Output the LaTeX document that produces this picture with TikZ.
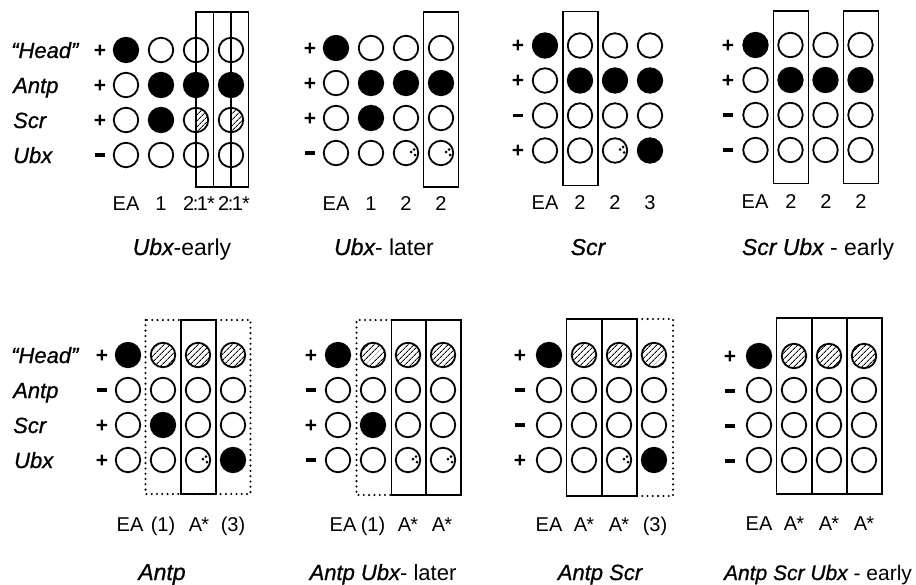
\documentclass[tikz,border=0pt]{standalone}
\usepackage{fontspec}
\usepackage{graphicx}
\setmainfont{Liberation Sans}
\newfontfamily\genefont{Liberation Sans}[FakeBold=0.8]
\usetikzlibrary{patterns.meta}

% italic gene name
\newcommand\gn[1]{{\genefont\itshape #1}}
% thick short bar used as the minus sign
\newcommand\mns{\rule[5.3pt]{10.5pt}{3.6pt}}
% one row of four cells: name prefix, x of first cell, y, kinds
\newcommand\cellrow[4]{\foreach \k [count=\i] in {#4}{\node[cell,cel\k] (#1c\i) at ({#2+(\i-1)*35},#3) {};}}
% column of four signs: name prefix, x, y of first row, signs
\newcommand\signcol[4]{\foreach \s [count=\i] in {#4}{\node[signstyle] (#1s\i) at (#2,{#3+(\i-1)*35+7.1}) {\s};}}

\tikzset{
  x=1pt, y=-1pt,
  cell/.style={circle, draw, line width=1.8pt, minimum size=24.5pt, inner sep=0pt},
  celO/.style={fill=white},
  celB/.style={fill=black},
  celH/.style={fill=white, postaction={pattern={Lines[angle=45,distance=4pt,line width=0.9pt]}}},
  celR/.style={fill=white, path picture={\fill[pattern={Lines[angle=45,distance=4pt,line width=0.9pt]}]
      (path picture bounding box.south) rectangle (path picture bounding box.north east);}},
  celD/.style={fill=white, path picture={\fill[black] (path picture bounding box.center) ++(5,-1) circle (1.5pt)
      ++(3,-2.5) circle (1.5pt) ++(1,5.5) circle (1.5pt);}},
  boxline/.style={line width=1.8pt},
  dotline/.style={line width=2.3pt, dash pattern=on 0pt off 5.3pt, line cap=round},
  signstyle/.style={anchor=base, inner sep=0pt, text height=15pt, text depth=0pt,
      font=\fontsize{21}{24}\selectfont\bfseries},
  lab/.style={anchor=base, inner sep=0pt, font=\fontsize{20}{24}\selectfont},
  rowname/.style={anchor=base west, inner sep=0pt, font=\fontsize{22}{26}\selectfont},
  ttl/.style={anchor=base, inner sep=0pt, font=\fontsize{23}{27}\selectfont},
}

\begin{document}
\begin{tikzpicture}
\useasboundingbox (0,0) rectangle (916,584);
\fill[white] (0,0) rectangle (916,584);

% ---------- gene names, top block ----------
\node[rowname] (nt1) at (11,58) {\gn{“Head”}};
\node[rowname] (nt2) at (13,93) {\gn{Antp}};
\node[rowname] (nt3) at (13,128) {\gn{Scr}};
\node[rowname] (nt4) at (13,163) {\gn{Ubx}};

% ---------- gene names, bottom block ----------
\node[rowname] (nb1) at (11,363) {\gn{“Head”}};
\node[rowname] (nb2) at (13,398) {\gn{Antp}};
\node[rowname] (nb3) at (13,433) {\gn{Scr}};
\node[rowname] (nb4) at (14,468) {\gn{Ubx}};

% ---------- Ubx-early ----------
\signcol{pa}{100}{50}{+,+,+,\mns}
\cellrow{pa1}{126}{50}{B,O,O,O}
\cellrow{pa2}{126}{85}{O,B,B,B}
\cellrow{pa3}{126}{120}{O,B,R,R}
\cellrow{pa4}{126}{155}{O,O,O,O}
\draw[boxline] (196,12) rectangle (248.5,187);
\draw[boxline] (213.5,12) -- (213.5,187);
\draw[boxline] (231,12) -- (231,187);
\node[lab] (la1) at (126,210) {EA};
\node[lab] (la2) at (161,210) {1};
\node[lab] (la3) at (199,210) {2\kern-1.5pt:\kern-1.5pt1\kern-1pt*};
\node[lab] (la4) at (234,210) {2\kern-1.5pt:\kern-1.5pt1\kern-1pt*};
\node[ttl] (ta) at (182,255) {\gn{Ubx}-early};

% ---------- Ubx-later ----------
\signcol{pb}{310}{48}{+,+,+,\mns}
\cellrow{pb1}{336}{48}{B,O,O,O}
\cellrow{pb2}{336}{83}{O,B,B,B}
\cellrow{pb3}{336}{118}{O,B,O,O}
\cellrow{pb4}{336}{153}{O,O,D,D}
\draw[boxline] (423.5,12) rectangle (458.5,187);
\node[lab] (lb1) at (336,210) {EA};
\node[lab] (lb2) at (371,210) {1};
\node[lab] (lb3) at (406,210) {2};
\node[lab] (lb4) at (441,210) {2};
\node[ttl] (tb) at (384,255) {\gn{Ubx}- later};

% ---------- Scr ----------
\signcol{pc}{518}{45.5}{+,+,\mns,+}
\cellrow{pc1}{545}{45.5}{B,O,O,O}
\cellrow{pc2}{545}{80.5}{O,B,B,B}
\cellrow{pc3}{545}{115.5}{O,O,O,O}
\cellrow{pc4}{545}{150.5}{O,O,D,B}
\draw[boxline] (563,11.5) rectangle (598,185.5);
\node[lab] (lc1) at (545,209) {EA};
\node[lab] (lc2) at (580,209) {2};
\node[lab] (lc3) at (615,209) {2};
\node[lab] (lc4) at (650,209) {3};
\node[ttl] (tc) at (588,255) {\gn{Scr}};

% ---------- Scr Ubx - early ----------
\signcol{pd}{728}{45}{+,+,\mns,\mns}
\cellrow{pd1}{755.5}{45}{B,O,O,O}
\cellrow{pd2}{755.5}{80}{O,B,B,B}
\cellrow{pd3}{755.5}{115}{O,O,O,O}
\cellrow{pd4}{755.5}{150}{O,O,O,O}
\draw[boxline] (773.5,11) rectangle (808.5,183.5);
\draw[boxline] (843.5,11) rectangle (878.5,183.5);
\node[lab] (ld1) at (755,208) {EA};
\node[lab] (ld2) at (791,208) {2};
\node[lab] (ld3) at (826,208) {2};
\node[lab] (ld4) at (861,208) {2};
\node[ttl] (td) at (818,255) {\gn{Scr Ubx} - early};

% ---------- Antp ----------
\signcol{pe}{102}{355}{+,\mns,+,+}
\cellrow{pe1}{128}{355}{B,H,H,H}
\cellrow{pe2}{128}{390}{O,O,O,O}
\cellrow{pe3}{128}{425}{O,B,O,O}
\cellrow{pe4}{128}{460}{O,O,D,B}
\draw[dotline] (145.5,320) rectangle (250.5,494);
\draw[boxline] (181,320) rectangle (216,494);
\node[lab] (le1) at (130,531) {EA};
\node[lab] (le2) at (163,531) {(1)};
\node[lab] (le3) at (199,531) {A\kern-1pt*};
\node[lab] (le4) at (233,531) {(3)};
\node[ttl] (te) at (162,580) {\gn{Antp}};

% ---------- Antp Ubx-later ----------
\signcol{pf}{311}{355}{+,\mns,+,\mns}
\cellrow{pf1}{338}{355}{B,H,H,H}
\cellrow{pf2}{338}{390}{O,O,O,O}
\cellrow{pf3}{338}{425}{O,B,O,O}
\cellrow{pf4}{338}{460}{O,O,D,D}
\draw[dotline] (391.5,320) -- (356.5,320) -- (356.5,495) -- (391.5,495);
\draw[boxline] (391.5,320) rectangle (461,495);
\draw[boxline] (426,320) -- (426,495);
\node[lab] (lf1) at (343,531) {EA};
\node[lab] (lf2) at (373,531) {(1)};
\node[lab] (lf3) at (408,531) {A\kern-1pt*};
\node[lab] (lf4) at (442,531) {A\kern-1pt*};
\node[ttl, font=\fontsize{22}{26}\selectfont] (tf) at (383,580) {\gn{Antp Ubx}- later};

% ---------- Antp Scr ----------
\signcol{pg}{520}{355}{+,\mns,\mns,+}
\cellrow{pg1}{549}{355}{B,H,H,H}
\cellrow{pg2}{549}{390}{O,O,O,O}
\cellrow{pg3}{549}{425}{O,O,O,O}
\cellrow{pg4}{549}{460}{O,O,D,B}
\draw[dotline] (637,319) -- (673,319) -- (673,496) -- (637,496);
\draw[boxline] (566.5,319) rectangle (637,496);
\draw[boxline] (602,319) -- (602,496);
\node[lab] (lg1) at (549,531) {EA};
\node[lab] (lg2) at (584,531) {A\kern-1pt*};
\node[lab] (lg3) at (619,531) {A\kern-1pt*};
\node[lab] (lg4) at (655,531) {(3)};
\node[ttl, font=\fontsize{22}{26}\selectfont] (tg) at (600,580) {\gn{Antp Scr}};

% ---------- Antp Scr Ubx - early ----------
\signcol{ph}{730}{356}{+,\mns,\mns,\mns}
\cellrow{ph1}{759}{356}{B,H,H,H}
\cellrow{ph2}{759}{390}{O,O,O,O}
\cellrow{ph3}{759}{425}{O,O,O,O}
\cellrow{ph4}{759}{460}{O,O,O,O}
\draw[boxline] (776.5,318) rectangle (882,494);
\draw[boxline] (812,318) -- (812,494);
\draw[boxline] (847,318) -- (847,494);
\node[lab] (lh1) at (759,530) {EA};
\node[lab] (lh2) at (794,530) {A\kern-1pt*};
\node[lab] (lh3) at (829,530) {A\kern-1pt*};
\node[lab] (lh4) at (864,530) {A\kern-1pt*};
\node[ttl, font=\fontsize{21}{25}\selectfont] (th) at (818,580) {\gn{Antp Scr Ubx} - early};
\end{tikzpicture}
\end{document}
